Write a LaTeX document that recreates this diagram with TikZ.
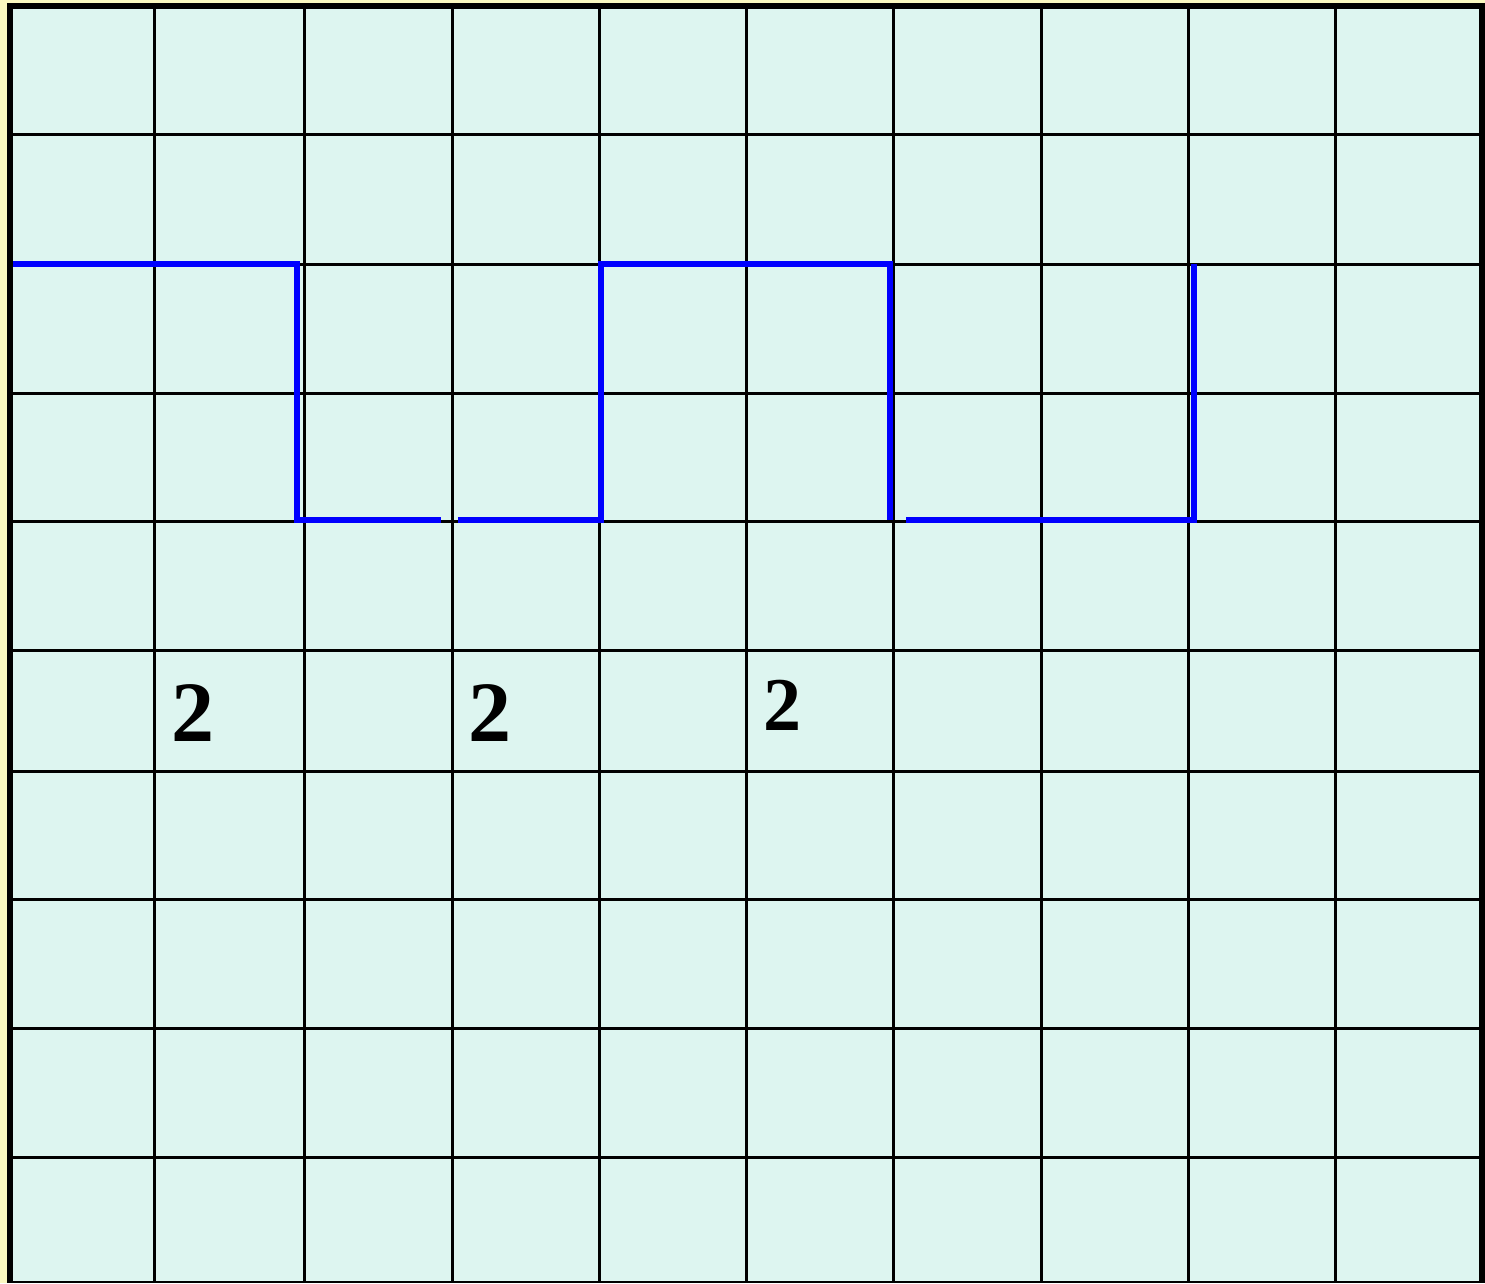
\documentclass[tikz,border=0pt]{standalone}
\usepackage{fontspec}
\setmainfont{Liberation Serif}
\definecolor{bgyellow}{HTML}{FAF8C0}
\definecolor{cellcyan}{HTML}{DDF5F0}
\definecolor{wave}{HTML}{0000FF}
\begin{document}
\begin{tikzpicture}[x=1pt,y=-1pt,
  gridline/.style={black,line width=3pt},
  waveline/.style={wave,line width=5.5pt},
  digit/.style={font=\bfseries\fontsize{86}{86}\selectfont,inner sep=0pt,anchor=center}]
\useasboundingbox (0,0) rectangle (1485,1283);
\fill[bgyellow] (0,0) rectangle (1485,1283);
\fill[black] (7,3) rectangle (1485,1283);
\fill[cellcyan] (13,9) rectangle (1479,1281);
\foreach \x in {154,304,452,599,746,893,1041,1188,1335}
  \draw[gridline] (\x,9) -- (\x,1281);
\foreach \y in {134,264,393,521,650,771,899,1028,1157}
  \draw[gridline] (13,\y) -- (1479,\y);
% square wave
\draw[waveline] (13,264) -- (297,264) -- (297,520) -- (441,520);
\draw[waveline] (458,520) -- (601,520) -- (601,264) -- (890,264) -- (890,520);
\draw[waveline] (906,520) -- (1194,520) -- (1194,264);
% labels
\node[digit] (d1) at (193,713) {2};
\node[digit] (d2) at (490,713) {2};
\node[digit,font=\bfseries\fontsize{76}{76}\selectfont] (d3) at (782,705) {2};
\end{tikzpicture}
\end{document}
